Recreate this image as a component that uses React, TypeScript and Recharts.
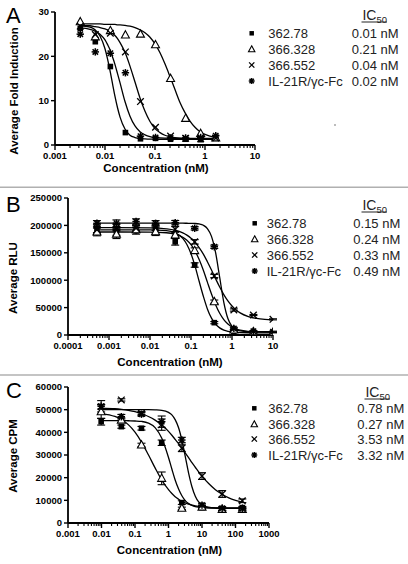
import React from "react";
import { ComposedChart, Line, Scatter, XAxis, YAxis, ErrorBar } from "recharts";

const FONT = "'Liberation Sans', Arial, Helvetica, sans-serif";

// ---------- shared ----------
const seriesNames = ["362.78", "366.328", "366.552", "IL-21R/\u03b3c-Fc"];
type Kind = "square" | "triangle" | "cross" | "star";
const seriesKinds: Kind[] = ["square", "triangle", "cross", "star"];

// ---------- Panel A ----------
const xMajorsA = [0.001, 0.01, 0.1, 1, 10];
const yTicksA = [0, 10, 20, 30];
const ic50A = ["0.01 nM", "0.21 nM", "0.04 nM", "0.02 nM"];
const concA = [0.0032, 0.0064, 0.0128, 0.0256, 0.0512, 0.1024, 0.2048, 0.4096, 0.8192, 1.6384];
const a362 = [26.3, 23.3, 17.7, 2.8, 1.4, 1.5, 1.3, 1.3, 1.2, 1.5];
const a328 = [27.8, 24.4, 25.8, 24.8, 25.0, 22.6, 15.0, 6.0, 2.6, 1.6];
const a552 = [26.8, 24.9, 25.2, 21.0, 9.8, 4.0, 2.0, 1.5, 1.4, 1.6];
const aIL = [25.0, 21.0, 20.7, 16.3, 2.0, 1.7, 1.6, 1.6, 1.7, 2.1];
const curveXA = [0.00316, 0.00501, 0.00631, 0.00794, 0.01, 0.0112, 0.0126, 0.0141, 0.0158, 0.0178, 0.02, 0.0251, 0.0316, 0.0398, 0.0501, 0.0631, 0.0794, 0.1, 0.126, 0.158, 0.2, 0.251, 0.316, 0.398, 0.501, 0.631, 0.794, 1, 1.26, 1.58];
const fitA362 = [26.9, 26.6, 26.0, 24.6, 21.7, 19.5, 16.8, 13.9, 11.0, 8.4, 6.3, 3.6, 2.2, 1.69, 1.46, 1.38, 1.33, 1.31, 1.3, 1.3, 1.3, 1.3, 1.3, 1.3, 1.3, 1.3, 1.3, 1.3, 1.3, 1.3];
const fitA328 = [27.3, 27.3, 27.3, 27.3, 27.2, 27.2, 27.2, 27.2, 27.2, 27.1, 27.1, 27.0, 26.8, 26.5, 26.0, 25.3, 24.3, 22.8, 20.8, 18.3, 15.4, 12.5, 9.6, 7.3, 5.4, 4.0, 3.0, 2.4, 2.0, 1.7];
const fitA552 = [27.0, 26.9, 26.7, 26.5, 26.2, 26.0, 25.6, 25.2, 24.7, 24.0, 23.1, 20.9, 17.8, 14.2, 10.6, 7.6, 5.3, 3.7, 2.8, 2.2, 1.85, 1.65, 1.54, 1.49, 1.45, 1.43, 1.42, 1.41, 1.4, 1.4];
const fitAIL = [26.4, 26.1, 25.7, 25.0, 23.7, 22.7, 21.5, 19.9, 18.2, 16.1, 14.0, 9.8, 6.5, 4.3, 3.0, 2.3, 1.89, 1.7, 1.6, 1.55, 1.53, 1.51, 1.5, 1.5, 1.5, 1.5, 1.5, 1.5, 1.5, 1.5];

// ---------- Panel B ----------
const xMajorsB = [0.0001, 0.001, 0.01, 0.1, 1, 10];
const yTicksB = [0, 50000, 100000, 150000, 200000, 250000];
const ic50B = ["0.15 nM", "0.24 nM", "0.33 nM", "0.49 nM"];
const concB = [0.000508, 0.00152, 0.00457, 0.0137, 0.0412, 0.123, 0.37, 1.11, 3.33, 10];
const b362 = [194000, 188000, 190000, 193000, 170000, 127700, 22500, 6000, 5000, 4500];
const b328 = [188000, 184000, 192000, 188500, 182500, 154000, 60800, 9000, 6000, 5000];
const b552 = [192000, 196000, 195000, 196000, 192800, 170000, 107700, 45600, 36500, 28600];
const bIL = [203800, 204000, 207000, 203800, 205000, 194700, 161000, 12000, 7000, 6000];
const b362Err = [8000, 6000, 6000, 6000, 6000, 4000, 2000, 1000, 500, 500];
const b328Err = [7000, 8000, 5000, 7000, 6000, 5000, 3000, 1000, 500, 500];
const b552Err = [5000, 6000, 5000, 5000, 5000, 4000, 3000, 2000, 1000, 1000];
const bILErr = [5000, 6000, 5000, 5000, 4000, 3000, 3000, 2000, 1000, 1000];
const curveXB = [0.000508, 0.01, 0.0251, 0.0398, 0.0631, 0.0794, 0.1, 0.126, 0.158, 0.2, 0.251, 0.316, 0.398, 0.501, 0.631, 0.794, 1, 1.26, 1.58, 2.51, 3.98, 6.31, 10];
const fitB362 = [192000, 191900, 190500, 187000, 176300, 165200, 148400, 125300, 98000, 70700, 47600, 30700, 19700, 13000, 9000, 6800, 5550, 4850, 4470, 4140, 4050, 4020, 4000];
const fitB328 = [188000, 187800, 186600, 184300, 178500, 173000, 164900, 153300, 137600, 118200, 96500, 74800, 55400, 39700, 28100, 20000, 14500, 11000, 8700, 6440, 5550, 5210, 5100];
const fitB552 = [196000, 195500, 193700, 191300, 186300, 182200, 176600, 169100, 159500, 147700, 133800, 118500, 102700, 87500, 73800, 62200, 52900, 45700, 40300, 33600, 30200, 28500, 27700];
const fitBIL = [204000, 204000, 204000, 204000, 204000, 203900, 203800, 203500, 202600, 200300, 194300, 180000, 150300, 105000, 59700, 30000, 15700, 9700, 7400, 6200, 6000, 6000, 6000];

// ---------- Panel C ----------
const xMajorsC = [0.001, 0.01, 0.1, 1, 10, 100, 1000];
const yTicksC = [0, 10000, 20000, 30000, 40000, 50000, 60000];
const ic50C = ["0.78 nM", "0.27 nM", "3.53 nM", "3.32 nM"];
const concC = [0.00977, 0.0391, 0.156, 0.625, 2.5, 10, 40, 160];
const c362 = [44700, 42500, 41800, 35400, 9000, 6800, 6000, 6800];
const c328 = [49100, 45400, 34400, 19700, 6500, 7000, 6000, 6000];
const c552 = [51300, 54300, 48400, 43400, 33000, 20700, 12800, 9800];
const cIL = [51500, 46900, 48000, 44700, 36600, 7900, 6500, 6300];
const c362Err = [1500, 700, 800, 1200, 800, 500, 500, 500];
const c328Err = [3000, 1000, 800, 2800, 500, 800, 500, 500];
const c552Err = [1000, 500, 800, 2500, 1500, 1500, 1500, 800];
const cILErr = [2500, 1000, 800, 2500, 1200, 800, 800, 500];
const curveXC = [0.01, 0.0251, 0.0398, 0.0631, 0.1, 0.158, 0.251, 0.398, 0.631, 1, 1.26, 1.58, 2.0, 2.51, 3.16, 3.98, 5.01, 6.31, 7.94, 10, 15.8, 25.1, 39.8, 63.1, 100, 158];
const fitC362 = [45200, 45200, 45200, 45100, 45000, 44800, 44100, 42100, 37400, 28900, 23800, 19000, 15000, 12000, 9900, 8600, 7800, 7250, 6950, 6760, 6570, 6520, 6500, 6500, 6500, 6500];
const fitC328 = [48300, 47000, 45600, 43400, 40100, 35600, 30100, 24300, 18900, 14700, 13000, 11600, 10500, 9600, 8900, 8340, 7910, 7580, 7320, 7130, 6860, 6710, 6630, 6580, 6550, 6530];
const fitC552 = [50700, 50400, 50100, 49700, 49100, 48200, 47000, 45400, 43200, 40400, 38700, 36900, 35000, 33000, 30900, 28800, 26600, 24600, 22600, 20700, 17400, 14700, 12700, 11100, 10000, 9200];
const fitCIL = [50000, 50000, 50000, 50000, 50000, 50000, 50000, 49900, 49700, 48800, 47700, 45600, 42000, 36500, 29400, 22000, 16000, 11800, 9300, 8000, 6880, 6600, 6500, 6500, 6500, 6500];

// ---------- helpers ----------
type Pt = { x: number; y: number; e: number };
const zip = (xs: number[], ys: number[], es?: number[]): Pt[] =>
  xs.map((x, i) => ({ x, y: ys[i], e: es ? es[i] : 0 }));

function withMinors(majors: number[]): number[] {
  const out: number[] = [];
  majors.forEach((m, i) => {
    out.push(m);
    if (i < majors.length - 1) for (let k = 2; k <= 9; k++) out.push(+(m * k).toPrecision(6));
  });
  return out;
}

function Marker({ kind, cx, cy, s = 1 }: { kind: Kind; cx?: number; cy?: number; s?: number }) {
  if (cx == null || cy == null || isNaN(cx) || isNaN(cy)) return null;
  if (kind === "square")
    return <rect x={cx - 2.8 * s} y={cy - 2.8 * s} width={5.6 * s} height={5.6 * s} fill="#000" />;
  if (kind === "triangle")
    return (
      <path
        d={`M${cx},${cy - 4.3 * s} L${cx + 4 * s},${cy + 3 * s} L${cx - 4 * s},${cy + 3 * s} Z`}
        fill="#fff"
        stroke="#000"
        strokeWidth={1.1}
      />
    );
  if (kind === "cross")
    return (
      <g stroke="#000" strokeWidth={1.3}>
        <line x1={cx - 3.3 * s} y1={cy - 3.3 * s} x2={cx + 3.3 * s} y2={cy + 3.3 * s} />
        <line x1={cx - 3.3 * s} y1={cy + 3.3 * s} x2={cx + 3.3 * s} y2={cy - 3.3 * s} />
      </g>
    );
  return (
    <g stroke="#000" strokeWidth={1.5}>
      <line x1={cx - 3.7 * s} y1={cy} x2={cx + 3.7 * s} y2={cy} />
      <line x1={cx} y1={cy - 3.7 * s} x2={cx} y2={cy + 3.7 * s} />
      <line x1={cx - 2.7 * s} y1={cy - 2.7 * s} x2={cx + 2.7 * s} y2={cy + 2.7 * s} />
      <line x1={cx - 2.7 * s} y1={cy + 2.7 * s} x2={cx + 2.7 * s} y2={cy - 2.7 * s} />
      <circle cx={cx} cy={cy} r={1.8 * s} fill="#000" stroke="none" />
    </g>
  );
}

const makeXTick = (majors: number[]) => (props: any) => {
  const { x, y, payload } = props;
  const v = payload.value;
  const major = majors.some((m) => Math.abs(m - v) / m < 1e-6);
  return (
    <g>
      <line x1={x} x2={x} y1={y} y2={y + (major ? 5 : 3)} stroke="#000" strokeWidth={major ? 1.4 : 1.1} />
      {major && (
        <text x={x} y={y + 14} textAnchor="middle" fontFamily={FONT} fontWeight="bold" fontSize={9.5} fill="#000">
          {String(v)}
        </text>
      )}
    </g>
  );
};

const YTick = (props: any) => {
  const { x, y, payload } = props;
  return (
    <g>
      <line x1={x} x2={x - 4} y1={y} y2={y} stroke="#000" strokeWidth={1.4} />
      <text x={x - 6} y={y + 3.4} textAnchor="end" fontFamily={FONT} fontWeight="bold" fontSize={9.5} fill="#000">
        {String(payload.value)}
      </text>
    </g>
  );
};

type PanelProps = {
  top: number;
  height: number;
  margin: { top: number; right: number; bottom: number; left: number };
  yWidth: number;
  xMajors: number[];
  yTicks: number[];
  points: Pt[][];
  curveX: number[];
  fits: number[][];
  errors: boolean;
};

function Panel(p: PanelProps) {
  const xDomain = [p.xMajors[0], p.xMajors[p.xMajors.length - 1]];
  const yDomain = [p.yTicks[0], p.yTicks[p.yTicks.length - 1]];
  const axisLine = { stroke: "#000", strokeWidth: 1.8 };
  return (
    <div style={{ position: "absolute", left: 0, top: p.top, width: 408, height: p.height }}>
      <ComposedChart width={408} height={p.height} margin={p.margin}>
        <XAxis
          dataKey="x"
          type="number"
          scale="log"
          domain={xDomain}
          ticks={withMinors(p.xMajors)}
          interval={0}
          allowDataOverflow
          tick={makeXTick(p.xMajors)}
          tickLine={false}
          tickSize={0}
          tickMargin={0}
          axisLine={axisLine}
          height={30}
        />
        <YAxis
          dataKey="y"
          type="number"
          domain={yDomain}
          ticks={p.yTicks}
          interval={0}
          allowDataOverflow
          tick={YTick}
          tickLine={false}
          tickSize={0}
          tickMargin={0}
          axisLine={axisLine}
          width={p.yWidth}
        />
        {p.fits.map((f, i) => (
          <Line
            key={"fit" + i}
            data={zip(p.curveX, f)}
            dataKey="y"
            type="monotone"
            stroke="#000"
            strokeWidth={1.3}
            dot={false}
            activeDot={false}
            isAnimationActive={false}
          />
        ))}
        {p.points.map((pts, i) => (
          <Scatter
            key={"pts" + i}
            data={pts}
            dataKey="y"
            isAnimationActive={false}
            shape={(sp: any) => <Marker kind={seriesKinds[i]} cx={sp.cx} cy={sp.cy} />}
          >
            {p.errors && <ErrorBar dataKey="e" direction="y" width={4} stroke="#000" strokeWidth={1.1} />}
          </Scatter>
        ))}
      </ComposedChart>
    </div>
  );
}

type LegendSpec = {
  letter: string;
  letterY: number;
  yLabel: string;
  yLabelX: number;
  yLabelY: number;
  xLabelX: number;
  xLabelY: number;
  ic50: string[];
  headerRight: number;
  headerY: number;
  rowsY: number[];
  markerX: number;
  textX: number;
  valueX: number;
};

const legendSpecs: LegendSpec[] = [
  {
    letter: "A", letterY: 23, yLabel: "Average Fold Induction", yLabelX: 14, yLabelY: 91,
    xLabelX: 156, xLabelY: 172, ic50: ic50A, headerRight: 387, headerY: 15,
    rowsY: [33.3, 49.3, 65, 81], markerX: 251.7, textX: 268.3, valueX: 351.7,
  },
  {
    letter: "B", letterY: 212, yLabel: "Average RLU", yLabelX: 13, yLabelY: 278,
    xLabelX: 170, xLabelY: 366, ic50: ic50B, headerRight: 387, headerY: 205,
    rowsY: [223.3, 239.3, 255, 271], markerX: 254.7, textX: 266.7, valueX: 353.3,
  },
  {
    letter: "C", letterY: 398, yLabel: "Average CPM", yLabelX: 13, yLabelY: 456,
    xLabelX: 169.5, xLabelY: 554, ic50: ic50C, headerRight: 390, headerY: 392,
    rowsY: [408.3, 424.3, 439, 455], markerX: 254.3, textX: 268.3, valueX: 357.3,
  },
];

function Overlay() {
  return (
    <svg width={408} height={564} style={{ position: "absolute", left: 0, top: 0, pointerEvents: "none" }}>
      <line x1={0} x2={408} y1={187.3} y2={187.3} stroke="#b0b0b0" strokeWidth={1.5} />
      <line x1={0} x2={408} y1={375} y2={375} stroke="#b0b0b0" strokeWidth={1.5} />
      <circle cx={335} cy={125} r={0.8} fill="#666" />
      {legendSpecs.map((s) => (
        <g key={s.letter}>
          <text x={6} y={s.letterY} fontFamily={FONT} fontSize={22} fill="#000">
            {s.letter}
          </text>
          <text
            x={s.yLabelX}
            y={s.yLabelY}
            transform={`rotate(-90 ${s.yLabelX} ${s.yLabelY})`}
            textAnchor="middle"
            dy="0.36em"
            fontFamily={FONT}
            fontWeight="bold"
            fontSize={11.5}
            fill="#000"
          >
            {s.yLabel}
          </text>
          <text x={s.xLabelX} y={s.xLabelY} textAnchor="middle" fontFamily={FONT} fontWeight="bold" fontSize={11.5} fill="#000">
            Concentration (nM)
          </text>
          <text x={s.headerRight} y={s.headerY + 5} textAnchor="end" fontFamily={FONT} fontSize={14} fill="#222">
            IC
            <tspan fontSize={9.5} dy={3}>
              50
            </tspan>
          </text>
          <line x1={s.headerRight - 25.5} x2={s.headerRight} y1={s.headerY + 7} y2={s.headerY + 7} stroke="#222" strokeWidth={1} />
          {seriesNames.map((n, i) => (
            <g key={n}>
              <Marker kind={seriesKinds[i]} cx={s.markerX} cy={s.rowsY[i]} s={0.8} />
              <text x={s.textX} y={s.rowsY[i] + 4.6} fontFamily={FONT} fontSize={13} fill="#222">
                {n}
              </text>
              <text x={s.valueX} y={s.rowsY[i] + 4.6} fontFamily={FONT} fontSize={13} fill="#222">
                {s.ic50[i]}
              </text>
            </g>
          ))}
        </g>
      ))}
    </svg>
  );
}

export default function App() {
  return (
    <div style={{ position: "absolute", left: 0, top: 0, width: 408, height: 564, background: "#fff", overflow: "hidden" }}>
      <Panel
        top={0}
        height={187}
        margin={{ top: 12, right: 153, bottom: 12, left: 0 }}
        yWidth={55}
        xMajors={xMajorsA}
        yTicks={yTicksA}
        points={[zip(concA, a362), zip(concA, a328), zip(concA, a552), zip(concA, aIL)]}
        curveX={curveXA}
        fits={[fitA362, fitA328, fitA552, fitAIL]}
        errors={false}
      />
      <Panel
        top={187}
        height={188}
        margin={{ top: 11, right: 135, bottom: 10, left: 0 }}
        yWidth={68}
        xMajors={xMajorsB}
        yTicks={yTicksB}
        points={[zip(concB, b362, b362Err), zip(concB, b328, b328Err), zip(concB, b552, b552Err), zip(concB, bIL, bILErr)]}
        curveX={curveXB}
        fits={[fitB362, fitB328, fitB552, fitBIL]}
        errors={true}
      />
      <Panel
        top={375}
        height={189}
        margin={{ top: 12, right: 139, bottom: 11, left: 0 }}
        yWidth={68}
        xMajors={xMajorsC}
        yTicks={yTicksC}
        points={[zip(concC, c362, c362Err), zip(concC, c328, c328Err), zip(concC, c552, c552Err), zip(concC, cIL, cILErr)]}
        curveX={curveXC}
        fits={[fitC362, fitC328, fitC552, fitCIL]}
        errors={true}
      />
      <Overlay />
    </div>
  );
}
